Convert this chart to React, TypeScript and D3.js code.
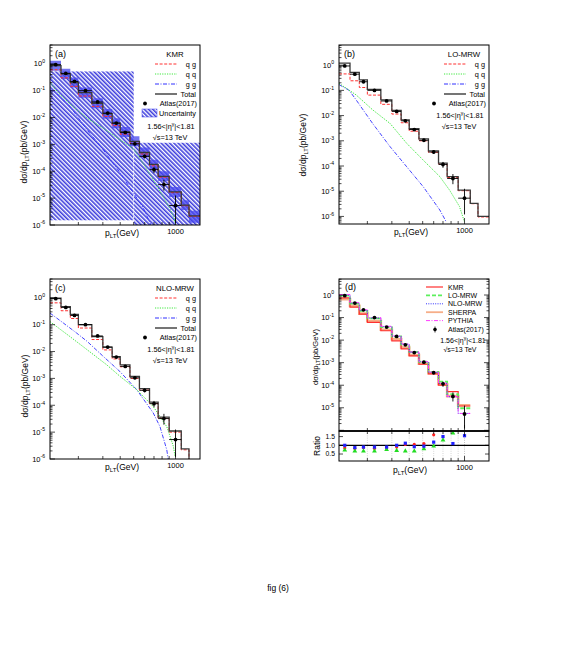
import React from 'react';
import * as d3 from 'd3';

const FONT = '"Liberation Sans", Arial, sans-serif';

// ATLAS(2017) isolated photons, 1.56<|eta|<1.81, sqrt(s)=13 TeV
const dataEdges = [125, 150, 175, 200, 250, 300, 350, 400, 470, 550, 650, 750, 900, 1100];
const atlasVal = [0.93, 0.44, 0.22, 0.1, 0.038, 0.0146, 0.0062, 0.0028, 0.00105, 3.6e-4, 1.15e-4, 3.2e-5, 5.3e-6];
const atlasHi = [0.98, 0.47, 0.235, 0.107, 0.041, 0.0158, 0.0068, 0.0031, 0.0012, 4.2e-4, 1.45e-4, 4.8e-5, 1.25e-5];
const atlasLo = [0.88, 0.41, 0.205, 0.093, 0.035, 0.0134, 0.0056, 0.0025, 0.00093, 3.0e-4, 0.85e-4, 1.9e-5, 1.2e-6];

// model binning used in (a)-(c)
const modelEdges = [125, 150, 175, 200, 250, 300, 350, 400, 470, 550, 650, 750, 900, 1100, 1250, 1500];

// (a) KMR
const kmrTotal = [0.85, 0.42, 0.2, 0.085, 0.034, 0.014, 0.0062, 0.0029, 0.0013, 5e-4, 1.8e-4, 6.5e-5, 1.7e-5, 5.5e-6, 2.2e-6];
const kmrQg = [0.6, 0.3, 0.145, 0.063, 0.026, 0.011, 0.005, 0.0024, 0.0011, 4.4e-4, 1.6e-4, 6e-5, 1.6e-5, 5.2e-6, 2.1e-6];
const kmrBandLo = [0.55, 0.27, 0.13, 0.055, 0.022, 0.009, 0.004, 0.0019, 8.5e-4, 3.3e-4, 1.2e-4, 4.3e-5, 1.1e-5, 3.6e-6, 1.2e-6];
const kmrBandHi = [1.3, 0.65, 0.31, 0.13, 0.052, 0.021, 0.0095, 0.0044, 0.002, 7.6e-4, 2.7e-4, 1e-4, 2.6e-5, 8.4e-6, 3.4e-6];
const kmrQqPt = [125, 143, 174, 231, 302, 398, 497, 584, 690, 818, 900, 962, 1000];
const kmrQq = [0.2, 0.085, 0.032, 0.0095, 0.004, 0.0015, 7e-4, 2e-4, 5e-5, 1.1e-5, 4.5e-6, 2.2e-6, 1.1e-6];
const kmrGgPt = [125, 143, 174, 231, 302, 398, 497, 584, 665];
const kmrGg = [0.11, 0.07, 0.026, 3.5e-3, 6.3e-4, 9e-5, 1.6e-5, 4.5e-6, 1e-6];
// uncertainty boxes [ptLo, ptHi, low, high]
const kmrUncBoxes = [[125, 500, 1.5e-6, 0.52], [500, 1500, 1e-6, 1.15e-3]];

// (b) LO-MRW
const loTotal = [1.2, 0.52, 0.26, 0.11, 0.042, 0.016, 0.0068, 0.003, 0.0012, 4e-4, 1.3e-4, 3.8e-5, 1.1e-5, 3.3e-6, 1e-6];
const loQg = [0.45, 0.24, 0.13, 0.065, 0.028, 0.0115, 0.0052, 0.0024, 0.001, 3.5e-4, 1.2e-4, 3.5e-5, 1.05e-5, 3.2e-6, 9.5e-7];
const loQqPt = [125, 166, 218, 291, 384, 505, 664, 781, 919, 1000];
const loQq = [0.19, 0.066, 0.017, 4.9e-3, 7.9e-4, 1.7e-4, 3.8e-5, 1.1e-5, 2.5e-6, 6e-7];
const loGgPt = [125, 148, 166, 218, 291, 384, 505, 664, 740];
const loGg = [0.17, 0.1, 0.042, 4.9e-3, 5.9e-4, 9.3e-5, 1.5e-5, 1.8e-6, 6e-7];

// (c) NLO-MRW
const nloTotal = [0.97, 0.47, 0.24, 0.1, 0.036, 0.0145, 0.0065, 0.0032, 0.0012, 4.2e-4, 1.3e-4, 3.6e-5, 1.1e-5, 2.4e-6, 4e-7];
const nloQg = [0.65, 0.33, 0.17, 0.075, 0.028, 0.0115, 0.0053, 0.0027, 0.001, 3.7e-4, 1.15e-4, 3.3e-5, 1e-5, 2.2e-6, 3.5e-7];
const nloQqPt = [125, 174, 231, 320, 398, 526, 691, 865, 964, 991];
const nloQq = [0.13, 0.036, 0.0117, 3.2e-3, 1.2e-3, 3.8e-4, 9e-5, 1.6e-5, 3e-6, 1.3e-6];
const nloGgPt = [125, 156, 194, 231, 302, 398, 526, 691, 773, 865, 887];
const nloGg = [0.27, 0.115, 0.049, 0.024, 6.6e-3, 1.8e-3, 3.8e-4, 5.2e-5, 1.6e-5, 2.2e-6, 9.5e-7];

// (d) comparison, data binning
const cmpKmr = [0.74, 0.29, 0.143, 0.061, 0.026, 0.0093, 0.0041, 0.002, 8.5e-4, 3.2e-4, 1.0e-4, 5.2e-5, 1.2e-5];
const cmpLo = [0.95, 0.42, 0.2, 0.092, 0.038, 0.0145, 0.0064, 0.003, 0.0011, 3.9e-4, 1.45e-4, 4e-5, 9.5e-6];
const cmpNlo = [1.0, 0.44, 0.21, 0.095, 0.04, 0.015, 0.0066, 0.0029, 0.0011, 3.7e-4, 1.2e-4, 3.1e-5, 5.6e-6];
const cmpSherpa = [0.65, 0.33, 0.15, 0.07, 0.029, 0.011, 0.0047, 0.0022, 9e-4, 3.4e-4, 1.1e-4, 3.3e-5, 1.3e-5];
const cmpPythia = [1.05, 0.46, 0.22, 0.1, 0.041, 0.0155, 0.0068, 0.003, 0.00112, 3.8e-4, 1.25e-4, 3.2e-5, 5.6e-6];
const ratioRed = [0.85, 0.82, 0.88, 0.82, 0.86, 0.9, 1.05, 1.05, 1.1, 1.6, null, null, null];
const ratioBlue = [1.0, 0.87, 0.9, 0.9, 0.9, 1.0, 1.12, 0.92, 0.95, 1.18, 1.5, 1.1, 1.55];
const ratioGreen = [0.72, 0.67, 0.67, 0.67, 0.75, 0.7, 0.67, 0.67, 0.8, 0.95, 1.3, 1.7, null];

const minorPts = [200, 300, 400, 500, 600, 700, 800, 900];

const C = { red: '#ff3030', green: '#3ee83e', blue: '#3030ff', total: '#3a3a3a' };

const stepPts = (edges, vals) => {
  const p = vals.map((v, i) => [edges[i], v]);
  p.push([edges[vals.length], vals[vals.length - 1]]);
  return p;
};
const centers = dataEdges.slice(0, -1).map((e, i) => (e + dataEdges[i + 1]) / 2);

function Exp({ x, y, exp, size = 7.5 }) {
  return (
    <text x={x} y={y} textAnchor="end" fontSize={size} fontFamily={FONT}>
      10<tspan dy={-3.2} fontSize={size * 0.68}>{exp}</tspan>
    </text>
  );
}

function Axes({ box, x, y, labelExps, rightTicks = false, xLabel = true }) {
  const els = [];
  const [lo, hi] = y.domain();
  for (let e = Math.floor(Math.log10(lo)); e <= Math.ceil(Math.log10(hi)); e++) {
    for (let k = 1; k <= 9; k++) {
      const v = k * Math.pow(10, e);
      if (v < lo || v > hi) continue;
      const yy = y(v);
      const len = k === 1 ? 5 : 2.5;
      els.push(<line key={`l${e}${k}`} x1={box.x0} x2={box.x0 + len} y1={yy} y2={yy} stroke="#000" strokeWidth={0.7} />);
      if (rightTicks) els.push(<line key={`r${e}${k}`} x1={box.x1} x2={box.x1 - len} y1={yy} y2={yy} stroke="#000" strokeWidth={0.7} />);
      if (k === 1 && labelExps.includes(e)) els.push(<Exp key={`t${e}`} x={box.x0 - 5} y={yy + 2.5} exp={String(e)} />);
    }
  }
  [...minorPts, 1000].forEach(p => {
    const len = p === 1000 ? 6 : 3;
    els.push(<line key={`b${p}`} x1={x(p)} x2={x(p)} y1={box.y1} y2={box.y1 - len} stroke="#000" strokeWidth={0.7} />);
  });
  if (xLabel) els.push(<text key="k1000" x={x(1000)} y={box.y1 + 9} textAnchor="middle" fontSize={7.5} fontFamily={FONT}>1000</text>);
  return <g>{els}</g>;
}

function YTitle({ cx, cy, size = 8.5 }) {
  return (
    <text transform={`translate(${cx},${cy}) rotate(-90)`} textAnchor="middle" fontSize={size} fontFamily={FONT}>
      dσ/dp<tspan dy={2} fontSize={size * 0.7}>LT</tspan><tspan dy={-2}>(pb/GeV)</tspan>
    </text>
  );
}

function XTitle({ cx, cy }) {
  return (
    <text x={cx} y={cy} textAnchor="middle" fontSize={8.5} fontFamily={FONT}>
      p<tspan dy={2} fontSize={6}>LT</tspan><tspan dy={-2}>(GeV)</tspan>
    </text>
  );
}

function DataPoints({ x, y, hbars = true }) {
  return (
    <g>
      {atlasVal.map((v, i) => (
        <g key={i}>
          {hbars && <line x1={x(dataEdges[i])} x2={x(dataEdges[i + 1])} y1={y(v)} y2={y(v)} stroke="#000" strokeWidth={0.9} />}
          <line x1={x(centers[i])} x2={x(centers[i])} y1={y(atlasHi[i])} y2={y(atlasLo[i])} stroke="#000" strokeWidth={0.9} />
          <circle cx={x(centers[i])} cy={y(v)} r={1.9} fill="#000" />
        </g>
      ))}
    </g>
  );
}

function ModelPanel({ id, box, yMax, yMin, tag, title, total, qg, qqPt, qq, ggPt, gg, band, boxes, yTitle }) {
  const x = d3.scaleLog().domain([125, 1500]).range([box.x0, box.x1]);
  const y = d3.scaleLog().domain([yMin, yMax]).range([box.y1, box.y0]);
  const step = d3.line().x(d => x(d[0])).y(d => y(d[1])).curve(d3.curveStepAfter);
  const lin = d3.line().x(d => x(d[0])).y(d => y(d[1]));
  const bandArea = d3.area().x(d => x(d[0])).y0(d => y(d[1])).y1(d => y(d[2])).curve(d3.curveStepAfter);
  const lx = box.x0 + 105, lx2 = box.x0 + 127, rx = box.x0 + 146;
  const ly = box.y0 + 12;
  const entries = [
    { label: 'q g', color: C.red, dash: '3,1.6', w: 1 },
    { label: 'q q', color: C.green, dash: '1.2,1.2', w: 1 },
    { label: 'g g', color: C.blue, dash: '4,1.5,1,1.5', w: 1 },
    { label: 'Total', color: C.total, dash: null, w: 1.4 },
  ];
  const after = box.y0 + 61;
  return (
    <g>
      <clipPath id={id}><rect x={box.x0} y={box.y0} width={box.x1 - box.x0} height={box.y1 - box.y0} /></clipPath>
      <g clipPath={`url(#${id})`}>
        {boxes && boxes.map((b, i) => (
          <rect key={i} x={x(b[0])} y={y(b[3])} width={x(b[1]) - x(b[0])} height={y(b[2]) - y(b[3])} fill="url(#hatch)" />
        ))}
        {boxes && <line x1={x(500)} x2={x(500)} y1={y(1.15e-3)} y2={box.y1} stroke="#fff" strokeWidth={0.9} strokeDasharray="2,1.5" />}
        {band && <path d={bandArea(stepPts(modelEdges, band[0]).map((p, i) => [p[0], p[1], stepPts(modelEdges, band[1])[i][1]]))} fill="#4646ee" fillOpacity={0.75} />}
        <path d={lin(ggPt.map((p, i) => [p, gg[i]]))} fill="none" stroke={C.blue} strokeWidth={0.9} strokeDasharray="4,1.5,1,1.5" />
        <path d={lin(qqPt.map((p, i) => [p, qq[i]]))} fill="none" stroke={C.green} strokeWidth={1} strokeDasharray="1.2,1.2" />
        <path d={step(stepPts(modelEdges, qg))} fill="none" stroke={C.red} strokeWidth={1} strokeDasharray="3,1.6" />
        <path d={step(stepPts(modelEdges, total))} fill="none" stroke={C.total} strokeWidth={1.3} />
        <DataPoints x={x} y={y} />
      </g>
      <rect x={box.x0} y={box.y0} width={box.x1 - box.x0} height={box.y1 - box.y0} fill="none" stroke="#000" strokeWidth={1} />
      <Axes box={box} x={x} y={y} labelExps={[0, -1, -2, -3, -4, -5, -6]} />
      <YTitle cx={yTitle[0]} cy={yTitle[1]} />
      <XTitle cx={box.x0 + 72} cy={box.y1 + 11} />
      <text x={box.x0 + 5} y={box.y0 + 12} fontSize={9} fontFamily={FONT}>{tag}</text>
      <g fontFamily={FONT} fontSize={7.3}>
        <text x={box.x0 + 125} y={ly} textAnchor="middle" fontSize={7.8}>{title}</text>
        {entries.map((en, i) => (
          <g key={en.label}>
            <line x1={lx} x2={lx2} y1={ly + 7 + i * 10} y2={ly + 7 + i * 10} stroke={en.color} strokeWidth={en.w} strokeDasharray={en.dash || undefined} />
            <text x={rx} y={ly + 9.5 + i * 10} textAnchor="end">{en.label}</text>
          </g>
        ))}
        <circle cx={box.x0 + 95} cy={after - 2.5} r={1.9} fill="#000" />
        <text x={rx + 1} y={after} textAnchor="end">Atlas(2017)</text>
        {boxes && (
          <g>
            <rect x={box.x0 + 92} y={after + 3} width={15} height={8} fill="url(#hatch)" stroke="#4646ee" strokeWidth={0.5} />
            <text x={rx} y={after + 10} textAnchor="end">Uncertainty</text>
          </g>
        )}
        <text x={box.x0 + 121} y={after + (boxes ? 23 : 12)} textAnchor="middle">1.56&lt;|η<tspan dy={-3} fontSize={5}>γ</tspan><tspan dy={3}>|&lt;1.81</tspan></text>
        <text x={box.x0 + 120} y={after + (boxes ? 34 : 23)} textAnchor="middle">√s=13 TeV</text>
      </g>
    </g>
  );
}

function ComparePanel() {
  const box = { x0: 339, x1: 489, y0: 279, y1: 431 };
  const rbox = { x0: 339, x1: 489, y0: 431, y1: 461 };
  const x = d3.scaleLog().domain([125, 1500]).range([box.x0, box.x1]);
  const y = d3.scaleLog().domain([Math.pow(10, -6.03), Math.pow(10, 0.71)]).range([box.y1, box.y0]);
  const r = d3.scaleLinear().domain([0.1, 1.82]).range([rbox.y1, rbox.y0]);
  const step = d3.line().x(d => x(d[0])).y(d => y(d[1])).curve(d3.curveStepAfter);
  const series = [
    { key: 'SHERPA', vals: cmpSherpa, color: '#f6ae88', w: 2.6, dash: null },
    { key: 'KMR', vals: cmpKmr, color: C.red, w: 1.2, dash: null },
    { key: 'LO-MRW', vals: cmpLo, color: '#5cf05c', w: 1.8, dash: '4,2' },
    { key: 'NLO-MRW', vals: cmpNlo, color: C.blue, w: 1, dash: '1,1.3' },
    { key: 'PYTHIA', vals: cmpPythia, color: '#ff3cff', w: 1, dash: '4,1.5,1,1.5' },
  ];
  const legendOrder = ['KMR', 'LO-MRW', 'NLO-MRW', 'SHERPA', 'PYTHIA'];
  return (
    <g>
      <clipPath id="clipD"><rect x={box.x0} y={box.y0} width={150} height={box.y1 - box.y0} /></clipPath>
      <g clipPath="url(#clipD)">
        {series.map(s => (
          <path key={s.key} d={step(stepPts(dataEdges, s.vals))} fill="none" stroke={s.color} strokeWidth={s.w} strokeDasharray={s.dash || undefined} />
        ))}
        <DataPoints x={x} y={y} hbars={false} />
      </g>
      <rect x={box.x0} y={box.y0} width={150} height={box.y1 - box.y0} fill="none" stroke="#000" strokeWidth={1} />
      <Axes box={box} x={x} y={y} labelExps={[0, -1, -2, -3, -4, -5]} rightTicks xLabel={false} />
      <YTitle cx={318} cy={357} size={7.6} />
      <text x={box.x0 + 6} y={box.y0 + 11} fontSize={9} fontFamily={FONT}>(d)</text>
      <g fontFamily={FONT} fontSize={7}>
        {legendOrder.map((k, i) => {
          const s = series.find(q => q.key === k);
          const yy = box.y0 + 8 + i * 8.4;
          return (
            <g key={k}>
              <line x1={box.x0 + 87} x2={box.x0 + 104} y1={yy} y2={yy} stroke={s.color} strokeWidth={Math.min(s.w, 1.8)} strokeDasharray={s.dash || undefined} />
              <text x={box.x0 + 109} y={yy + 2.5}>{k}</text>
            </g>
          );
        })}
        <circle cx={box.x0 + 96} cy={box.y0 + 50.5} r={1.8} fill="#000" />
        <line x1={box.x0 + 96} x2={box.x0 + 96} y1={box.y0 + 47.5} y2={box.y0 + 53.5} stroke="#000" strokeWidth={0.8} />
        <text x={box.x0 + 109} y={box.y0 + 53}>Atlas(2017)</text>
        <text x={box.x0 + 124} y={box.y0 + 64} textAnchor="middle">1.56&lt;|η<tspan dy={-3} fontSize={5}>γ</tspan><tspan dy={3}>|&lt;1.81</tspan></text>
        <text x={box.x0 + 121} y={box.y0 + 73} textAnchor="middle">√s=13 TeV</text>
      </g>
      {/* ratio pad */}
      {[...minorPts, 1000].map(p => (
        <line key={p} x1={x(p)} x2={x(p)} y1={rbox.y0} y2={rbox.y1} stroke={p === 1000 ? '#999' : '#bbb'} strokeWidth={0.6} strokeDasharray="1,1.2" />
      ))}
      <line x1={rbox.x0} x2={rbox.x1} y1={r(1)} y2={r(1)} stroke="#000" strokeWidth={1.2} />
      {ratioRed.map((v, i) => v != null && <circle key={`r${i}`} cx={x(centers[i])} cy={r(v)} r={1.6} fill="#ff2020" />)}
      {ratioGreen.map((v, i) => v != null && (
        <path key={`g${i}`} d={d3.symbol(d3.symbolTriangle, 10)()} transform={`translate(${x(centers[i])},${r(v)})`} fill="#22dd22" />
      ))}
      {ratioBlue.map((v, i) => v != null && <rect key={`b${i}`} x={x(centers[i]) - 1.6} y={r(v) - 1.6} width={3.2} height={3.2} fill="#2020ff" />)}
      <rect x={rbox.x0} y={rbox.y0} width={150} height={30} fill="none" stroke="#000" strokeWidth={1} />
      <line x1={rbox.x0} x2={rbox.x1} y1={rbox.y0} y2={rbox.y0} stroke="#000" strokeWidth={1.6} />
      {[0.5, 1.0, 1.5].map(v => (
        <g key={v}>
          <line x1={rbox.x0} x2={rbox.x0 + 4} y1={r(v)} y2={r(v)} stroke="#000" strokeWidth={0.7} />
          <line x1={rbox.x1} x2={rbox.x1 - 4} y1={r(v)} y2={r(v)} stroke="#000" strokeWidth={0.7} />
          <text x={rbox.x0 - 4} y={r(v) + 2.3} textAnchor="end" fontSize={6.8} fontFamily={FONT}>{v.toFixed(1)}</text>
        </g>
      ))}
      {[...minorPts, 1000].map(p => (
        <g key={`t${p}`}>
          <line x1={x(p)} x2={x(p)} y1={rbox.y1} y2={rbox.y1 - (p === 1000 ? 5 : 3)} stroke="#000" strokeWidth={0.7} />
          <line x1={x(p)} x2={x(p)} y1={rbox.y0} y2={rbox.y0 + (p === 1000 ? 5 : 3)} stroke="#000" strokeWidth={0.7} />
        </g>
      ))}
      <text x={x(1000)} y={rbox.y1 + 8.5} textAnchor="middle" fontSize={7.5} fontFamily={FONT}>1000</text>
      <text transform={`translate(320,446) rotate(-90)`} textAnchor="middle" fontSize={8.5} fontFamily={FONT}>Ratio</text>
      <XTitle cx={410} cy={rbox.y1 + 12} />
    </g>
  );
}

export default function App() {
  return (
    <svg width={570} height={660} style={{ position: 'absolute', left: 0, top: 0, background: '#fff' }}>
      <defs>
        <pattern id="hatch" patternUnits="userSpaceOnUse" width={3} height={3} patternTransform="rotate(-45)">
          <rect width={3} height={3} fill="#fff" />
          <line x1={0.8} y1={0} x2={0.8} y2={3} stroke="#3c3cdc" strokeWidth={1.6} />
        </pattern>
      </defs>
      <rect width={570} height={660} fill="#fff" />
      <ModelPanel id="clipA" box={{ x0: 50, x1: 200, y0: 45, y1: 225 }} yMin={1e-6} yMax={Math.pow(10, 0.7)} tag="(a)" title="KMR"
        total={kmrTotal} qg={kmrQg} qqPt={kmrQqPt} qq={kmrQq} ggPt={kmrGgPt} gg={kmrGg}
        band={[kmrBandLo, kmrBandHi]} boxes={kmrUncBoxes} yTitle={[27, 152]} />
      <ModelPanel id="clipB" box={{ x0: 339, x1: 489, y0: 45, y1: 224 }} yMin={Math.pow(10, -6.3)} yMax={Math.pow(10, 0.8)} tag="(b)" title="LO-MRW"
        total={loTotal} qg={loQg} qqPt={loQqPt} qq={loQq} ggPt={loGgPt} gg={loGg} yTitle={[306, 145]} />
      <ModelPanel id="clipC" box={{ x0: 50, x1: 200, y0: 279, y1: 459 }} yMin={1e-6} yMax={Math.pow(10, 0.7)} tag="(c)" title="NLO-MRW"
        total={nloTotal} qg={nloQg} qqPt={nloQqPt} qq={nloQq} ggPt={nloGgPt} gg={nloGg} yTitle={[28, 386]} />
      <ComparePanel />
      <text x={278} y={591} textAnchor="middle" fontSize={8.5} fontFamily={FONT}>fig (6)</text>
    </svg>
  );
}
